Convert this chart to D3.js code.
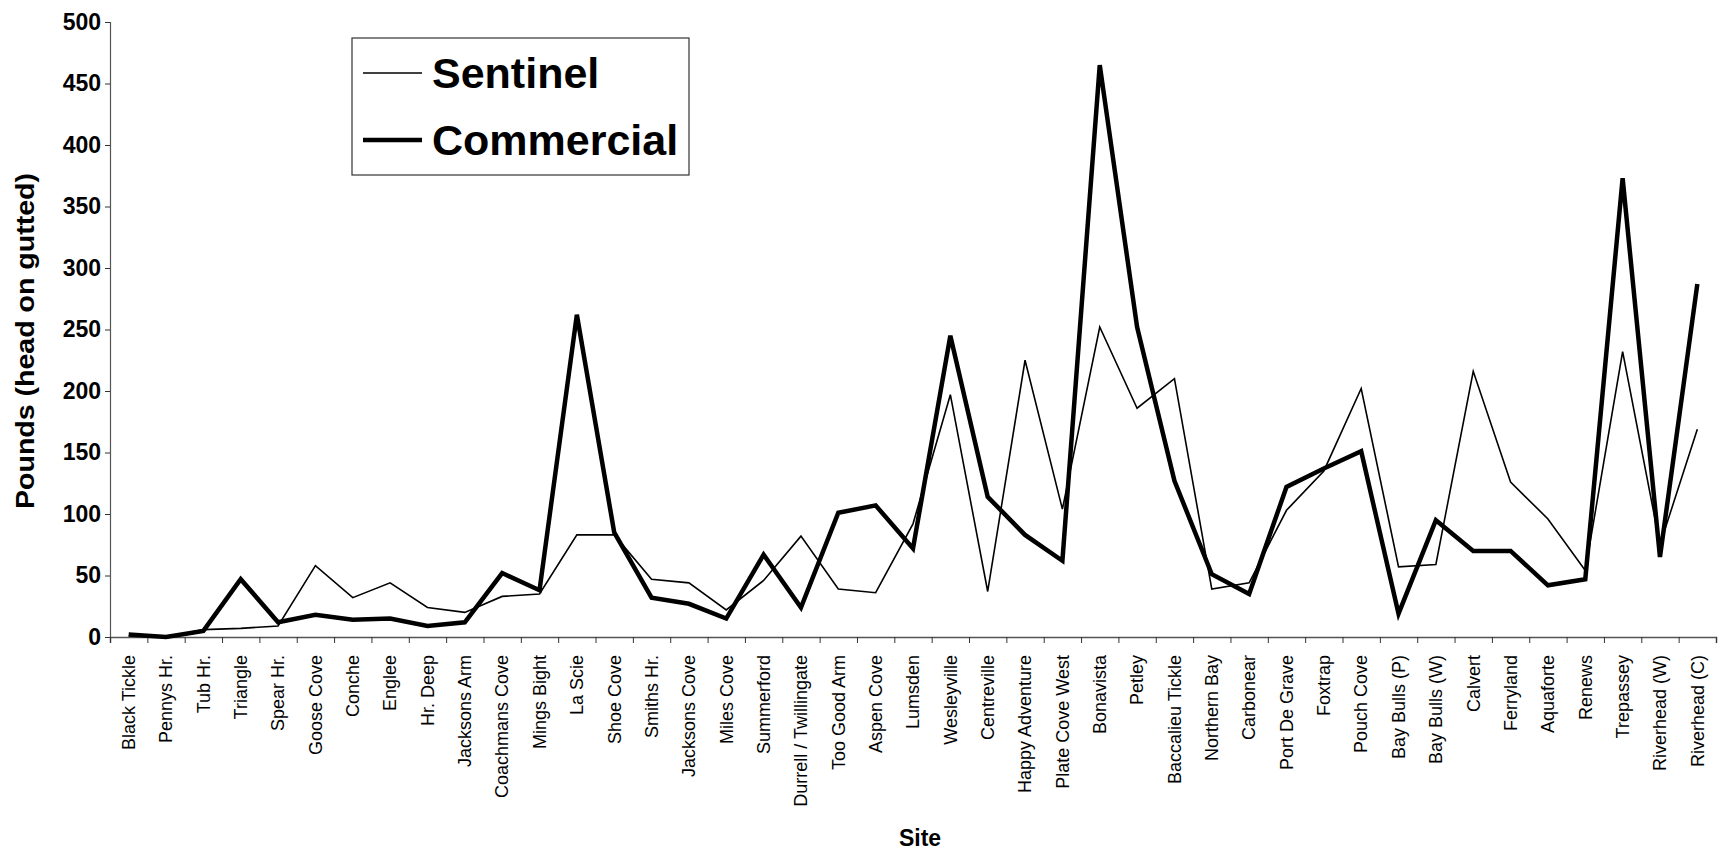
<!DOCTYPE html>
<html>
<head>
<meta charset="utf-8">
<script src="https://cdn.jsdelivr.net/npm/d3@7"></script>
<style>
  html, body { margin: 0; padding: 0; background: #fff; }
  svg { display: block; font-family: Arial, "Liberation Sans", sans-serif; }
</style>
</head>
<body>
<svg id="chart" width="1718" height="853"></svg>
<script>
const sites = ["Black Tickle","Pennys Hr.","Tub Hr.","Triangle","Spear Hr.","Goose Cove","Conche","Englee","Hr. Deep","Jacksons Arm","Coachmans Cove","Mings Bight","La Scie","Shoe Cove","Smiths Hr.","Jacksons Cove","Miles Cove","Summerford","Durrell / Twillingate","Too Good Arm","Aspen Cove","Lumsden","Wesleyville","Centreville","Happy Adventure","Plate Cove West","Bonavista","Petley","Baccalieu Tickle","Northern Bay","Carbonear","Port De Grave","Foxtrap","Pouch Cove","Bay Bulls (P)","Bay Bulls (W)","Calvert","Ferryland","Aquaforte","Renews","Trepassey","Riverhead (W)","Riverhead (C)"];

const sentinel = [1,0,6,7,9,58,32,44,24,20,33,35,83,83,47,44,22,46,82,39,36,92,197,37,225,104,252,186,210,39,44,103,135,202,57,59,216,126,96,54,232,75,169];

const commercial = [2,0,5,47,12,18,14,15,9,12,52,38,262,85,32,27,15,67,24,101,107,72,245,114,83,62,465,252,127,51,35,122,137,151,19,95,70,70,42,47,373,65,287];

const yTicks = [0,50,100,150,200,250,300,350,400,450,500];
const seriesNames = ["Sentinel","Commercial"];

(function () {
const svg = d3.select("#chart");
const mLeft = 110, mRight = 1716, mTop = 22, mBottom = 637;

const x = d3.scaleBand().domain(sites).range([mLeft, mRight]).padding(0);
const xb = d3.scaleLinear().domain([0, sites.length]).range([mLeft, mRight]);
const y = d3.scaleLinear().domain([0, 500]).range([mBottom, mTop]);

// Y axis
const yAxis = svg.append("g").attr("transform", `translate(${mLeft},0)`)
  .call(d3.axisLeft(y).tickValues(yTicks).tickSize(5).tickPadding(4).tickFormat(d3.format("d")));
yAxis.select(".domain").attr("stroke", "#555").attr("stroke-width", 1.2);
yAxis.selectAll(".tick line").attr("stroke", "#333");
yAxis.selectAll("text").attr("font-size", 23).attr("font-weight", "bold").attr("fill", "#000")
  .attr("font-family", "Arial, 'Liberation Sans', sans-serif");

// X axis boundary ticks
const xTickAxis = svg.append("g").attr("transform", `translate(0,${mBottom})`)
  .call(d3.axisBottom(xb).tickValues(d3.range(sites.length + 1)).tickSize(6).tickFormat(""));
xTickAxis.select(".domain").attr("stroke", "#555").attr("stroke-width", 1.5);
xTickAxis.selectAll(".tick line").attr("stroke", "#333");

// X labels
const xAxis = svg.append("g").attr("transform", `translate(0,${mBottom})`)
  .call(d3.axisBottom(x).tickSize(0).tickPadding(0));
xAxis.select(".domain").remove();
xAxis.selectAll("text")
  .attr("font-size", 18)
  .attr("fill", "#000")
  .attr("font-family", "Arial, 'Liberation Sans', sans-serif")
  .attr("text-anchor", "end")
  .attr("transform", "translate(0,18) rotate(-90)")
  .attr("x", 0).attr("y", 0).attr("dy", "0.35em");

// Lines
const line = d3.line().x((d, i) => x(sites[i]) + x.bandwidth() / 2).y(d => y(d));
svg.append("path").datum(sentinel).attr("d", line)
  .attr("fill", "none").attr("stroke", "#000").attr("stroke-width", 1.6).attr("stroke-linejoin", "miter");
svg.append("path").datum(commercial).attr("d", line)
  .attr("fill", "none").attr("stroke", "#000").attr("stroke-width", 4.5).attr("stroke-linejoin", "miter");

// Axis titles
svg.append("text").attr("transform", `translate(25,341) rotate(-90)`)
  .attr("text-anchor", "middle").attr("dy", "0.35em")
  .attr("font-size", 25).attr("font-weight", "bold")
  .attr("textLength", 336).attr("lengthAdjust", "spacingAndGlyphs")
  .text("Pounds (head on gutted)");
svg.append("text").attr("x", 920).attr("y", 846)
  .attr("text-anchor", "middle")
  .attr("font-size", 23).attr("font-weight", "bold").text("Site");

// Legend
const lg = svg.append("g");
lg.append("rect").attr("x", 352).attr("y", 38).attr("width", 337).attr("height", 137)
  .attr("fill", "#fff").attr("stroke", "#333").attr("stroke-width", 1.2);
const widths = [1.6, 4.5];
const ly = [73, 140];
seriesNames.forEach((name, i) => {
  lg.append("line").attr("x1", 363).attr("x2", 422).attr("y1", ly[i]).attr("y2", ly[i])
    .attr("stroke", "#000").attr("stroke-width", widths[i]);
  lg.append("text").attr("x", 432).attr("y", ly[i]).attr("dy", "0.36em")
    .attr("font-size", 43).attr("font-weight", "bold").text(name);
});
})();
</script>
</body>
</html>
